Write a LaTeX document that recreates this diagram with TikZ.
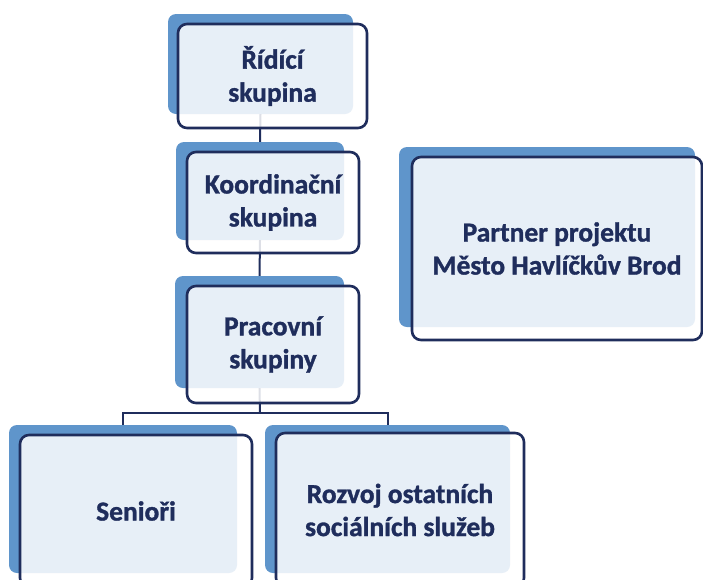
\documentclass[tikz,border=0pt]{standalone}
\usepackage{fontspec}
\setmainfont{Carlito}[BoldFeatures={FakeBold=1.2}]
\usetikzlibrary{positioning}
\definecolor{navy}{HTML}{1F2D5C}
\definecolor{backblue}{HTML}{5F95CB}
\tikzset{
  back/.style={
    fill=backblue,
    rounded corners=8pt,
    inner sep=0pt},
  front/.style={
    draw=navy,
    line width=2.6pt,
    fill=white,
    fill opacity=0.85,
    text opacity=1,
    rounded corners=9pt,
    inner sep=0pt,
    align=center,
    text=navy,
    font=\bfseries\fontsize{27.5}{33}\selectfont},
  conn/.style={
    draw=navy,
    line width=2pt}
  }
\begin{document}
\begin{tikzpicture}[x=1pt,y=-1pt]
		\useasboundingbox (0,0) rectangle (703,579);
		\clip (0,0) rectangle (703,579);
		% back plates
		\node [back, minimum width=185pt, minimum height=100pt] (ridiciB) at (260.5,64) {};
		\node [back, minimum width=168pt, minimum height=98pt] (koordB) at (260,191) {};
		\node [back, minimum width=169pt, minimum height=112pt] (pracB) at (259.5,332) {};
		\node [back, minimum width=228pt, minimum height=148pt] (senB) at (123,499) {};
		\node [back, minimum width=245pt, minimum height=148pt] (rozB) at (387.5,499) {};
		\node [back, minimum width=296pt, minimum height=180pt] (partB) at (547,237) {};
		% connectors
		\coordinate (fork) at (260,413);
		\draw [conn] (ridiciB.south) to (koordB.north);
		\draw [conn] (koordB.south) to (pracB.north);
		\draw [conn] (pracB.south) to (fork);
		\draw [conn] (fork) -| (senB.north);
		\draw [conn] (fork) -| (rozB.north);
		% front boxes
		\node [front, minimum width=189pt, minimum height=104pt] (ridici) at (272.5,76) {Řídící\\skupina};
		\node [front, minimum width=172pt, minimum height=101pt] (koord) at (273,202.5) {Koordinační\\skupina};
		\node [front, minimum width=172pt, minimum height=117pt] (prac) at (273,344.5) {Pracovní\\skupiny};
		\node [front, minimum width=232pt, minimum height=152pt] (sen) at (136,511) {Senioři};
		\node [front, minimum width=248pt, minimum height=154pt] (roz) at (400,510) {Rozvoj ostatních\\sociálních služeb};
		\node [front, minimum width=290pt, minimum height=183pt] (part) at (557,248.5) {Partner projektu\\Město Havlíčkův Brod};
	\end{tikzpicture}
\end{document}
